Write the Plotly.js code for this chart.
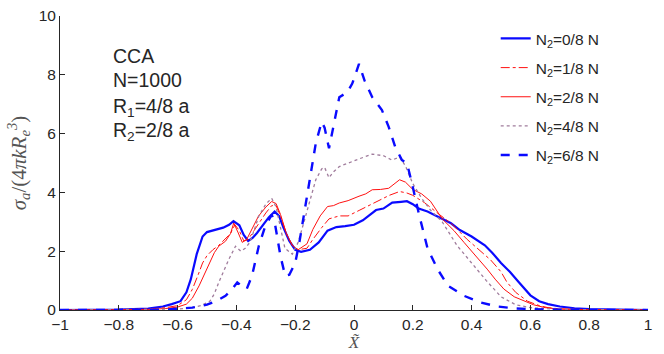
<!DOCTYPE html>
<html><head><meta charset="utf-8">
<script src="https://cdn.plot.ly/plotly-3.0.1.min.js"></script>
<style>body{margin:0;padding:0;background:#fff}#chart{width:664px;height:354px}</style>
</head><body><div id="chart"></div>
<script>
// Series names
const seriesNames = ["N<sub>2</sub>=0/8 N","N<sub>2</sub>=1/8 N","N<sub>2</sub>=2/8 N","N<sub>2</sub>=4/8 N","N<sub>2</sub>=6/8 N"];

// N2 = 0/8 N (blue solid)
const x0 = [-1,-0.8,-0.7,-0.65,-0.62,-0.59,-0.57,-0.555,-0.535,-0.515,-0.5,-0.47,-0.445,-0.425,-0.41,-0.39,-0.375,-0.36,-0.345,-0.33,-0.31,-0.29,-0.27,-0.255,-0.24,-0.22,-0.2,-0.18,-0.15,-0.12,-0.09,-0.06,-0.03,0,0.03,0.05,0.075,0.1,0.13,0.16,0.18,0.2,0.22,0.25,0.28,0.3,0.33,0.36,0.4,0.445,0.47,0.5,0.53,0.56,0.6,0.63,0.66,0.7,0.75,0.8,0.9,1];
const y0 = [0,0.01,0.05,0.12,0.2,0.3,0.6,1.05,1.9,2.5,2.65,2.72,2.8,2.9,3.02,2.88,2.55,2.35,2.45,2.62,2.9,3.15,3.35,3.2,2.8,2.35,2.05,1.98,2.05,2.3,2.7,2.82,2.85,2.9,3.05,3.2,3.4,3.45,3.65,3.68,3.7,3.6,3.45,3.35,3.2,3.1,2.95,2.72,2.5,2.2,1.95,1.6,1.3,0.95,0.5,0.3,0.2,0.12,0.06,0.03,0.01,0];

// N2 = 1/8 N (red dash-dot)
const x1 = [-1,-0.8,-0.7,-0.64,-0.6,-0.57,-0.55,-0.53,-0.515,-0.5,-0.48,-0.46,-0.44,-0.42,-0.405,-0.39,-0.375,-0.36,-0.34,-0.32,-0.3,-0.28,-0.265,-0.25,-0.23,-0.21,-0.19,-0.16,-0.14,-0.11,-0.085,-0.05,-0.02,0.02,0.05,0.085,0.12,0.155,0.18,0.2,0.24,0.29,0.33,0.385,0.43,0.465,0.5,0.52,0.55,0.59,0.63,0.66,0.7,0.8,1];
const y1 = [0,0.01,0.03,0.08,0.15,0.35,0.7,1.2,1.6,1.85,2.05,2.2,2.4,2.6,2.9,2.7,2.35,2.4,2.7,3.0,3.3,3.55,3.55,3.2,2.6,2.2,2.05,2.1,2.4,2.8,3.1,3.2,3.2,3.4,3.55,3.72,3.9,4.03,3.98,3.9,3.65,3.25,2.95,2.4,2.0,1.7,1.3,0.95,0.6,0.3,0.15,0.08,0.04,0.01,0];

// N2 = 2/8 N (red solid)
const x2 = [-1,-0.8,-0.7,-0.64,-0.6,-0.57,-0.55,-0.527,-0.51,-0.493,-0.475,-0.46,-0.437,-0.42,-0.409,-0.395,-0.38,-0.365,-0.345,-0.325,-0.3,-0.28,-0.265,-0.25,-0.23,-0.21,-0.19,-0.16,-0.14,-0.115,-0.09,-0.07,-0.05,-0.02,0.017,0.04,0.062,0.09,0.118,0.14,0.155,0.175,0.2,0.23,0.26,0.3,0.34,0.375,0.41,0.453,0.48,0.51,0.545,0.577,0.61,0.65,0.7,0.8,1];
const y2 = [0,0.01,0.02,0.05,0.1,0.2,0.4,0.82,1.2,1.61,1.95,2.17,2.34,2.6,2.96,2.65,2.3,2.4,2.8,3.19,3.5,3.69,3.62,3.25,2.6,2.2,2.05,2.25,2.74,3.2,3.52,3.55,3.64,3.72,3.87,3.95,4.09,4.1,4.14,4.3,4.43,4.35,4.1,3.95,3.7,3.1,2.7,2.29,1.9,1.39,1.05,0.71,0.45,0.31,0.18,0.08,0.03,0.01,0];

// N2 = 4/8 N (purple dotted)
const x4 = [-1,-0.8,-0.6,-0.55,-0.52,-0.49,-0.475,-0.46,-0.44,-0.426,-0.403,-0.385,-0.37,-0.355,-0.34,-0.324,-0.3,-0.28,-0.265,-0.25,-0.235,-0.21,-0.19,-0.17,-0.152,-0.13,-0.11,-0.1,-0.085,-0.07,-0.05,-0.02,0.02,0.062,0.1,0.129,0.155,0.175,0.2,0.23,0.26,0.3,0.35,0.4,0.45,0.5,0.55,0.6,0.7,1];
const y4 = [0,0.005,0.03,0.08,0.15,0.3,0.55,0.94,1.4,1.72,2.17,2.0,2.1,2.29,2.7,3.19,3.6,3.8,3.5,2.8,2.1,1.9,2.3,3.0,3.64,4.43,4.8,4.85,4.5,4.7,4.88,5.0,5.15,5.3,5.25,5.1,5.2,4.9,4.3,3.8,3.4,3.0,2.2,1.6,1.0,0.45,0.18,0.08,0.02,0];

// N2 = 6/8 N (blue dashed)
const x6 = [-1,-0.8,-0.65,-0.55,-0.5,-0.47,-0.437,-0.415,-0.397,-0.38,-0.365,-0.347,-0.335,-0.324,-0.302,-0.28,-0.27,-0.26,-0.25,-0.234,-0.22,-0.2,-0.186,-0.166,-0.152,-0.13,-0.11,-0.1,-0.085,-0.07,-0.05,-0.023,-0.006,0.017,0.036,0.062,0.095,0.118,0.14,0.163,0.18,0.197,0.22,0.25,0.284,0.32,0.375,0.43,0.486,0.55,0.65,0.8,1];
const y6 = [0,0,0.01,0.08,0.18,0.3,0.48,0.7,0.94,0.8,0.71,1.16,1.7,2.17,2.85,3.24,3.0,2.4,1.83,1.16,1.2,1.6,2.29,3.5,4.31,5.67,6.4,6.2,5.5,6.2,7.24,7.4,7.7,8.37,7.8,7.24,6.8,6.23,5.55,5.1,5.0,4.31,3.3,2.1,1.39,0.82,0.48,0.26,0.12,0.05,0.02,0.005,0];

const xTickVals = [-1,-0.8,-0.6,-0.4,-0.2,0,0.2,0.4,0.6,0.8,1];
const xTickText = ["\u22121","\u22120.8","\u22120.6","\u22120.4","\u22120.2","0","0.2","0.4","0.6","0.8","1"];
const yTickVals = [0,2,4,6,8,10];

const infoLines = ["CCA","N=1000","R<sub>1</sub>=4/8 a","R<sub>2</sub>=2/8 a"];

const mk = (x,y,name,color,width,dash,g) => ({x:x,y:y,name:name,type:'scatter',mode:'lines',
  line:{color:color,width:width,dash:dash},legendgroup:g});

const traces = [
  mk(x0,y0,seriesNames[0],'#0a0aff',2.2,'solid','a'),
  mk(x1,y1,seriesNames[1],'#ff1010',1,'dashdot','b'),
  mk(x2,y2,seriesNames[2],'#ff1010',1,'solid','c'),
  mk(x4,y4,seriesNames[3],'#a07c9c',1.3,'dot','d'),
  mk(x6,y6,seriesNames[4],'#0a0aff',2.4,'dash','e')
];

const font = 'Liberation Sans, Arial, sans-serif';
const annotations = infoLines.map((t,i)=>({xref:'paper',yref:'paper',x:0.086,y:[0.864,0.782,0.69,0.607][i],
  xanchor:'left',yanchor:'middle',text:t,showarrow:false,font:{family:font,size:19.5,color:'#262626'}}));

const layout = {
  width:664,height:354,
  margin:{l:60,r:16,t:16,b:44},
  paper_bgcolor:'#fff',plot_bgcolor:'#fff',
  showlegend:true,
  legend:{x:0.741,y:0.98,xanchor:'left',yanchor:'top',bgcolor:'rgba(0,0,0,0)',
    font:{family:font,size:15.5,color:'#262626'},tracegroupgap:6,itemwidth:30},
  xaxis:{range:[-1,1],tickvals:xTickVals,ticktext:xTickText,ticks:'inside',ticklen:5,
    showline:true,linecolor:'#262626',linewidth:1,tickcolor:'#262626',showgrid:false,zeroline:false,
    tickfont:{family:font,size:15.5,color:'#262626'},
    title:{text:'<i>X\u0303</i>',font:{family:'Liberation Serif, serif',size:17,color:'#555'},standoff:3}},
  yaxis:{range:[0,10],tickvals:yTickVals,ticks:'inside',ticklen:5,
    showline:true,linecolor:'#262626',linewidth:1,tickcolor:'#262626',showgrid:false,zeroline:false,
    tickfont:{family:font,size:15.5,color:'#262626'},
    title:{text:'<i>σ<sub>a</sub></i>/(4<i>πkR<sub>e</sub><sup>3</sup></i>)',font:{family:'Liberation Serif, serif',size:21,color:'#555'},standoff:6}},
  annotations:annotations
};
Plotly.newPlot('chart',traces,layout,{displayModeBar:false,staticPlot:true});
</script></body></html>
